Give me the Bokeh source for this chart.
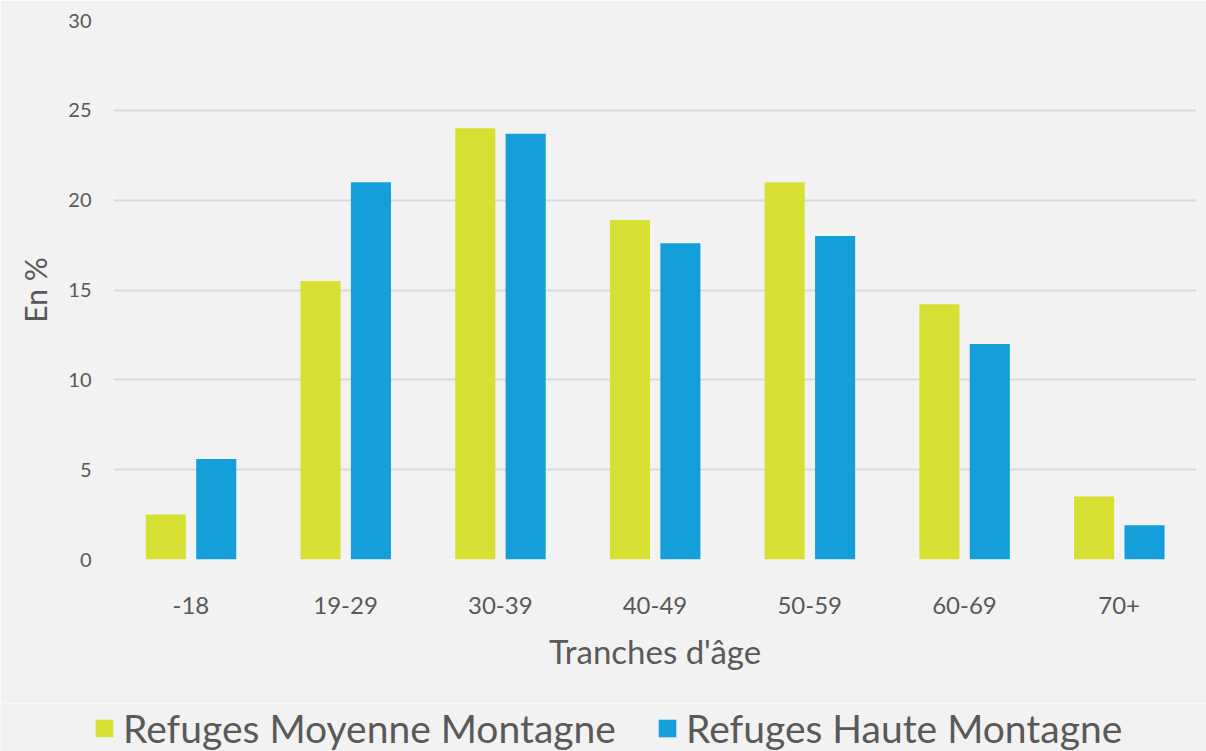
from bokeh.plotting import figure
from bokeh.layouts import column
from bokeh.models import ColumnDataSource, FactorRange, Range1d, Legend, LegendItem, SingleIntervalTicker
from bokeh.transform import dodge
from bokeh.embed import file_html
from bokeh.resources import INLINE

categories = ["-18", "19-29", "30-39", "40-49", "50-59", "60-69", "70+"]
moyenne = [2.5, 15.5, 24.0, 18.9, 21.0, 14.2, 3.5]
haute = [5.6, 21.0, 23.7, 17.6, 18.0, 12.0, 1.9]
series_names = ["Refuges Moyenne Montagne", "Refuges Haute Montagne"]

GREEN = "#d5e032"
BLUE = "#149fda"
BG = "#f2f2f2"
TXT = "#595959"
FONT = "Lato"

src = ColumnDataSource(dict(cat=categories, moy=moyenne, hau=haute))

p = figure(width=1206, height=703, x_range=FactorRange(*categories, range_padding=0),
           y_range=Range1d(0, 30), output_backend="svg", toolbar_location=None,
           background_fill_color=BG, border_fill_color=BG,
           min_border_left=113, min_border_right=10, min_border_top=20,
           min_border_bottom=144)
p.outline_line_color = None
p.frame_align = False

r1 = p.vbar(x=dodge("cat", -0.162, range=p.x_range), top="moy", width=0.259, source=src,
            fill_color=GREEN, line_color=None)
r2 = p.vbar(x=dodge("cat", 0.164, range=p.x_range), top="hau", width=0.259, source=src,
            fill_color=BLUE, line_color=None)

p.xgrid.grid_line_color = None
p.ygrid.grid_line_color = "#d9d9d9"
p.ygrid.grid_line_width = 2
p.yaxis.ticker = SingleIntervalTicker(interval=5)

for ax in (p.xaxis[0], p.yaxis[0]):
    ax.axis_line_color = None
    ax.major_tick_line_color = None
    ax.minor_tick_line_color = None
    ax.major_label_text_color = TXT
    ax.major_label_text_font = FONT
    ax.axis_label_text_color = TXT
    ax.axis_label_text_font = FONT
    ax.axis_label_text_font_style = "normal"

p.yaxis.major_label_text_font_size = "20px"
p.yaxis.major_label_standoff = 16
p.yaxis.axis_label = "En %"
p.yaxis.axis_label_text_font_size = "30px"
p.yaxis.axis_label_standoff = 12

p.xaxis.major_label_text_font_size = "24px"
p.xaxis.major_label_standoff = 31
p.xaxis.axis_label = "Tranches d'âge"
p.xaxis.axis_label_text_font_size = "33px"
p.xaxis.axis_label_standoff = 14

# legend strip below the chart
LH = 48
p2 = figure(width=1206, height=LH, x_range=Range1d(0, 1), y_range=Range1d(0, 1),
            x_axis_type=None, y_axis_type=None, output_backend="svg", toolbar_location=None,
            background_fill_color=BG, border_fill_color=BG,
            min_border=0)
p2.outline_line_color = None
p2.grid.grid_line_color = None
p2.frame_align = False
d1 = p2.vbar(x=[-10], top=[0], width=0.1, fill_color=GREEN, line_color=None)
d2 = p2.vbar(x=[-10], top=[0], width=0.1, fill_color=BLUE, line_color=None)

legend = Legend(items=[LegendItem(label=series_names[0], renderers=[d1]),
                       LegendItem(label=series_names[1], renderers=[d2])],
                orientation="horizontal", location=(93, 0),
                background_fill_alpha=0, border_line_color=None,
                label_text_font=FONT, label_text_font_size="39px", label_text_color=TXT,
                glyph_width=22, glyph_height=22, label_standoff=8, spacing=40,
                margin=0, padding=0)
p2.add_layout(legend, "center")

open("out.html", "w").write(file_html(column(p, p2), INLINE))
